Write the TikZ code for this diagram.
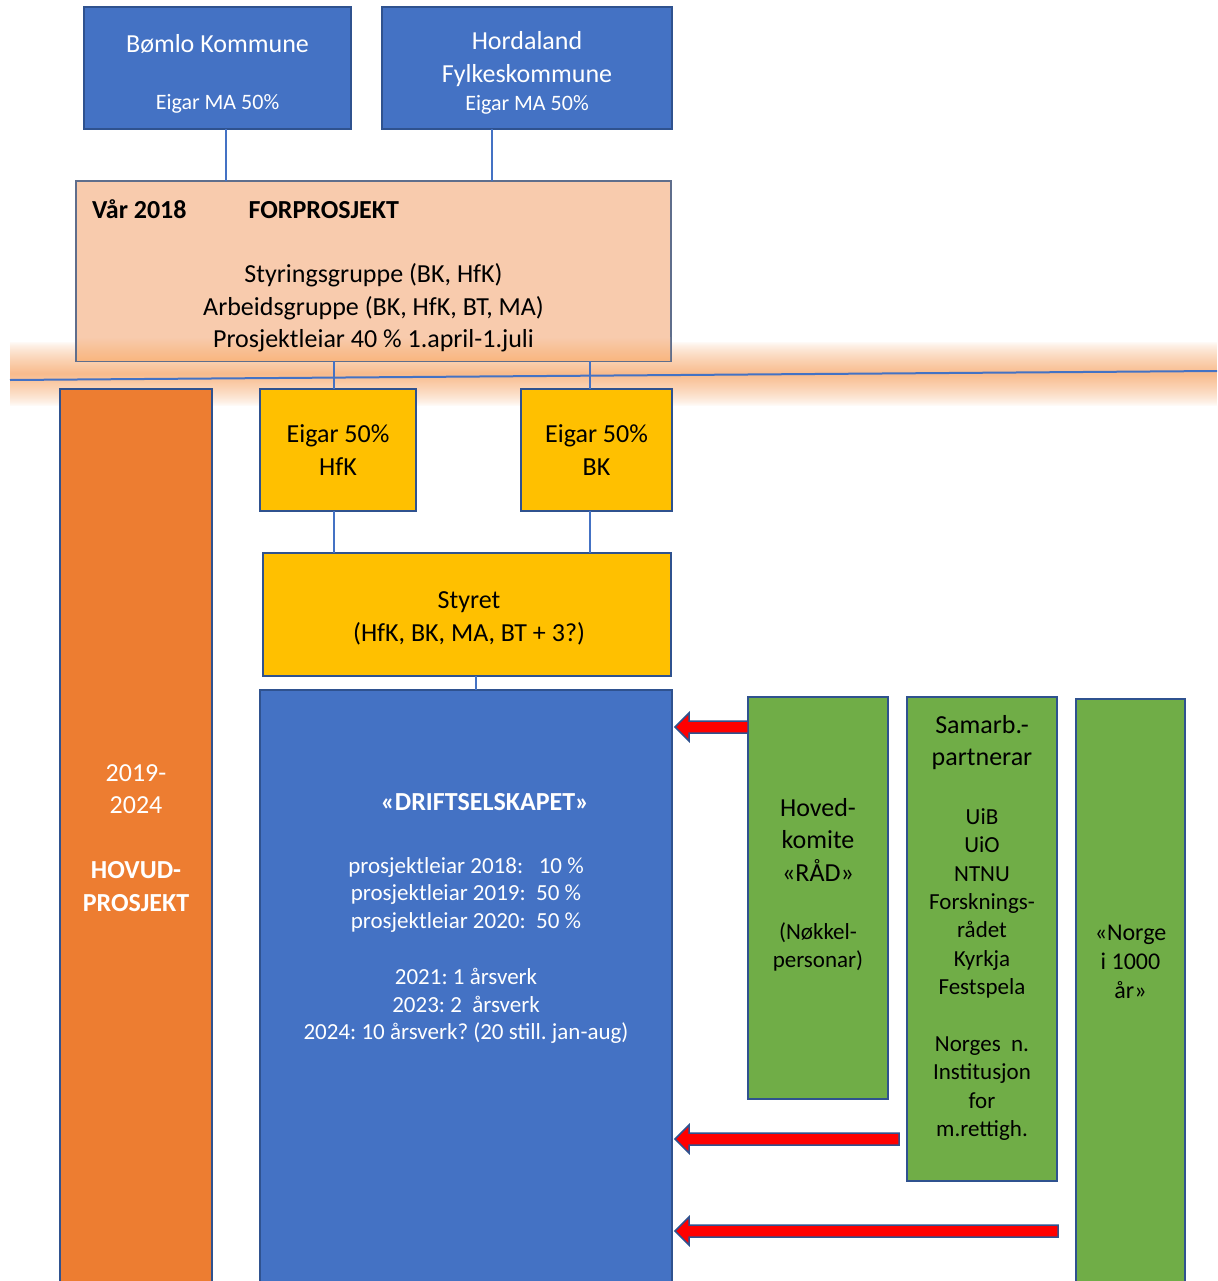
\documentclass[tikz,border=0pt]{standalone}
\usepackage{fontspec}
\setmainfont{Carlito}
\usetikzlibrary{positioning,calc}
\definecolor{eigblue}{HTML}{4472C4}
\definecolor{edgeblue}{HTML}{2F528F}
\definecolor{peach}{HTML}{F8CBAD}
\definecolor{peachedge}{HTML}{5F6E8C}
\definecolor{hovudorange}{HTML}{ED7D31}
\definecolor{eigargold}{HTML}{FFC000}
\definecolor{leafgreen}{HTML}{70AD47}
\definecolor{glow}{HTML}{F8BC8E}
\tikzstyle{box}=[draw=edgeblue, line width=1.8pt, inner sep=0pt, outer sep=0pt, align=center, anchor=north west]
\tikzstyle{bluebox}=[box, fill=eigblue, text=white]
\tikzstyle{peachbox}=[box, fill=peach, draw=peachedge]
\tikzstyle{orangebox}=[box, fill=hovudorange]
\tikzstyle{goldbox}=[box, fill=eigargold]
\tikzstyle{greenbox}=[box, fill=leafgreen]
\tikzstyle{txt}=[inner sep=0pt, outer sep=0pt, align=center]
\tikzstyle{bigtxt}=[font=\fontsize{26}{32.5}\selectfont]
\tikzstyle{boldtxt}=[font=\bfseries\fontsize{26}{32.5}\selectfont]
\tikzstyle{midtxt}=[font=\fontsize{23}{28.4}\selectfont]
\tikzstyle{smalltxt}=[font=\fontsize{23}{27.8}\selectfont]
\tikzstyle{link}=[draw=eigblue, line width=1.5pt]
\tikzstyle{pil}=[fill=red, draw=edgeblue, line width=1.5pt, line join=miter]
% block arrow from tail #1 to tip #2 (same height)
\newcommand{\pil}[2]{%
  \path[pil] let \p1=(#1), \p2=(#2) in
    (\x1,\y1+6pt) -- (\x2+14pt,\y1+6pt) -- (\x2+14pt,\y1+14pt) -- (\x2,\y1)
    -- (\x2+14pt,\y1-14pt) -- (\x2+14pt,\y1-6pt) -- (\x1,\y1-6pt) -- cycle;}
\frenchspacing

\begin{document}
\begin{tikzpicture}[x=1pt, y=-1pt]
  \useasboundingbox (0,0) rectangle (1217,1281);
  \fill[white] (0,0) rectangle (1217,1281);
%
  % glow round the cut between forprosjekt and hovudprosjekt
  \foreach \k in {0,...,32} {
    \pgfmathsetmacro\pct{100*(\k/32)^0.75}
    \fill[glow!\pct!white] (10,341+\k) rectangle (1217,342.3+\k);
    \fill[glow!\pct!white] (10,407-\k) rectangle (1217,405.7-\k);
  }
%
  \node[bluebox, minimum width=267pt, minimum height=122pt] (boemlo) at (84,7) {};
  \node[bluebox, minimum width=290pt, minimum height=122pt] (hordaland) [right=31pt of boemlo] {};
  \node[txt, bigtxt, text=white] (boemlotxt) at ($(boemlo.center)+(0,6)$)
    {Bømlo Kommune\\[24pt]{\fontsize{22}{27}\selectfont Eigar MA 50\%}};
  \node[txt, bigtxt, text=white] (hordalandtxt) at ($(hordaland.center)+(0,5)$)
    {Hordaland\\Fylkeskommune\\[-4pt]{\fontsize{22}{27}\selectfont Eigar MA 50\%}};
%
  \node[peachbox, minimum width=595pt, minimum height=180pt] (forpro) at (76,181) {};
  \shade[top color=peach, bottom color=glow!90!orange] ($(forpro.south west)+(1,-24)$) rectangle ($(forpro.south east)+(-1,-1)$);
  \node[txt, boldtxt, anchor=west] (vaar) at ($(forpro.north west)+(16,28)$) {Vår 2018};
  \node[txt, boldtxt, anchor=base west] (forhead) [base right=62pt of vaar] {FORPROSJEKT};
  \node[txt, bigtxt] (forbody) at ($(forpro.center)+(0,37)$)
    {Styringsgruppe (BK, HfK)\\Arbeidsgruppe (BK, HfK, BT, MA)\\Prosjektleiar 40 \% 1.april-1.juli};
%
  \coordinate (cutL) at (10,380);
  \coordinate (cutR) at (1217,371);
  \draw[eigblue, line width=2pt] (cutL) -- (cutR);
%
  \node[orangebox, minimum width=152pt, minimum height=910pt] (hovud) at (60,389) {};
  \node[goldbox, bigtxt, minimum width=156pt, minimum height=122pt] (eigarH) at (260,389) {Eigar 50\%\\HfK};
  \node[goldbox, bigtxt, minimum width=151pt, minimum height=122pt] (eigarB) at (521,389) {Eigar 50\%\\BK};
  \node[goldbox, minimum width=408pt, minimum height=123pt] (styret) at (263,553) {};
  \node[txt, bigtxt] (styrettxt) at ($(styret.center)+(2,4)$) {Styret\\(HfK, BK, MA, BT + 3?)};
  \node[bluebox, minimum width=412pt, minimum height=610pt] (drift) at (260,690) {};
  \node[greenbox, minimum width=140pt, minimum height=402pt] (hoved) at (748,697) {};
  \node[greenbox, minimum width=150pt, minimum height=484pt] (samarb) at (907,697) {};
  \node[greenbox, minimum width=109pt, minimum height=600pt] (norge) at (1076,699) {};
%
  \node[txt, bigtxt, text=white] (hovudtxt) at ($(hovud.north)+(0,449)$)
    {2019-\\2024\\[32.5pt]\textbf{HOVUD-}\\\textbf{PROSJEKT}};
  \node[txt, boldtxt, text=white] (drifthead) at ($(drift.north)+(19,112)$) {«DRIFTSELSKAPET»};
  \node[txt, smalltxt, text=white] (driftlist) at ($(drift.north)+(0,260.5)$)
    {prosjektleiar 2018:\ \ \ 10 \%\\prosjektleiar 2019:\ \ 50 \%\\prosjektleiar 2020:\ \ 50 \%\\[27.8pt]
     2021: 1 årsverk\\2023: 2\ \ årsverk\\2024: 10 årsverk? (20 still. jan-aug)};
  \node[txt, bigtxt] (hovedhead) at ($(hoved.north)+(0,142.5)$) {Hoved-\\komite\\«RÅD»};
  \node[txt, midtxt] (hovedsub) at ($(hoved.north)+(0,250)$) {(Nøkkel-\\personar)};
  \node[txt, bigtxt] (samarbhead) at ($(samarb.north)+(0,45.5)$) {Samarb.-\\partnerar};
  \node[txt, midtxt] (samarblist) at ($(samarb.north)+(0,277.5)$)
    {UiB\\UiO\\NTNU\\Forsknings-\\rådet\\Kyrkja\\Festspela\\[28.4pt]
     Norges\ \ n.\\Institusjon\\for\\m.rettigh.};
  \node[txt, font=\fontsize{24}{29}\selectfont] (norgetxt) at ($(norge.north)+(0,263)$) {«Norge\\i 1000\\år»};
%
  \draw[link] ([xshift=8.5pt]boemlo.south) -- ([xshift=8.5pt]boemlo.south |- forpro.north);
  \draw[link] ([xshift=-35pt]hordaland.south) -- ([xshift=-35pt]hordaland.south |- forpro.north);
  \draw[link] ([xshift=-4pt]eigarH.north) -- ([xshift=-4pt]eigarH.north |- forpro.south);
  \draw[link] ([xshift=-6.5pt]eigarB.north) -- ([xshift=-6.5pt]eigarB.north |- forpro.south);
  \draw[link] ([xshift=-4pt]eigarH.south) -- ([xshift=-4pt]eigarH.south |- styret.north);
  \draw[link] ([xshift=-6.5pt]eigarB.south) -- ([xshift=-6.5pt]eigarB.south |- styret.north);
  \draw[link] ([xshift=9pt]styret.south) -- ([xshift=9pt]styret.south |- drift.north);
%
  \path ([yshift=-30pt]hoved.north west) coordinate (tail1);
  \path (samarb.south west) ++(-8,-42) coordinate (tail2);
  \path (samarb.south east) ++(1,50) coordinate (tail3);
  \path (drift.east |- tail1) ++(3,0) coordinate (tip1);
  \path (drift.east |- tail2) ++(3,0) coordinate (tip2);
  \path (drift.east |- tail3) ++(3,0) coordinate (tip3);
  \pil{tail1}{tip1}
  \pil{tail2}{tip2}
  \pil{tail3}{tip3}
\end{tikzpicture}
\end{document}
